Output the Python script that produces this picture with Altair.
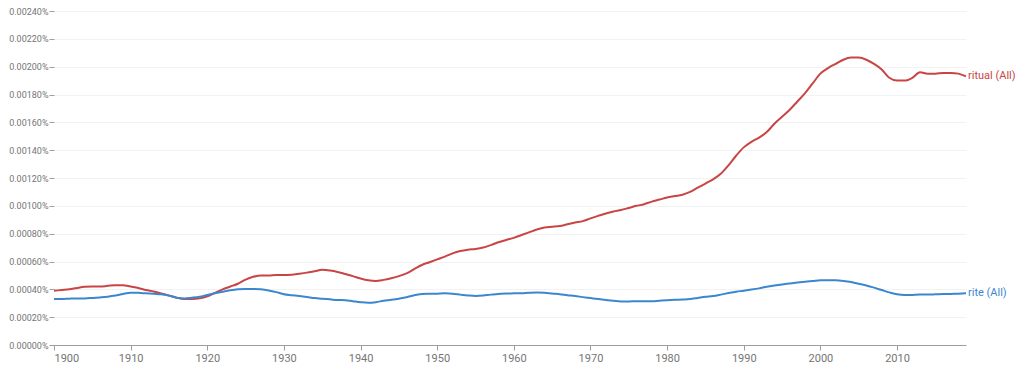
import altair as alt
import pandas as pd

years = list(range(1900, 2020))

ritual_pct = [
    0.000390, 0.000395, 0.000400, 0.000410, 0.000418, 0.000420, 0.000420, 0.000425, 0.000430, 0.000430,
    0.000420, 0.000410, 0.000395, 0.000385, 0.000370, 0.000355, 0.000340, 0.000330, 0.000330, 0.000335,
    0.000350, 0.000375, 0.000400, 0.000420, 0.000440, 0.000470, 0.000490, 0.000500, 0.000500, 0.000503,
    0.000503, 0.000505, 0.000512, 0.000520, 0.000530, 0.000540, 0.000535, 0.000525, 0.000510, 0.000495,
    0.000478, 0.000465, 0.000460, 0.000468, 0.000480, 0.000495, 0.000515, 0.000545, 0.000575, 0.000595,
    0.000615, 0.000635, 0.000658, 0.000675, 0.000685, 0.000690, 0.000700, 0.000718, 0.000738, 0.000755,
    0.000770, 0.000790, 0.000810, 0.000830, 0.000845, 0.000850, 0.000855, 0.000868, 0.000880, 0.000890,
    0.000910, 0.000928, 0.000945, 0.000960, 0.000970, 0.000985, 0.001000, 0.001012, 0.001030, 0.001045,
    0.001060, 0.001070, 0.001080, 0.001100, 0.001130, 0.001160, 0.001190, 0.001230, 0.001290, 0.001360,
    0.001420, 0.001460, 0.001490, 0.001530, 0.001590, 0.001640, 0.001690, 0.001750, 0.001810, 0.001880,
    0.001950, 0.001990, 0.002020, 0.002050, 0.002065, 0.002065, 0.002050, 0.002020, 0.001980, 0.001920,
    0.001900, 0.001900, 0.001920, 0.001960, 0.001950, 0.001950, 0.001955, 0.001955, 0.001950, 0.001930,
]

rite_pct = [
    0.000330, 0.000330, 0.000333, 0.000335, 0.000335, 0.000338, 0.000342, 0.000347, 0.000355, 0.000367,
    0.000376, 0.000375, 0.000371, 0.000368, 0.000365, 0.000355, 0.000340, 0.000335, 0.000340, 0.000347,
    0.000360, 0.000372, 0.000383, 0.000393, 0.000400, 0.000403, 0.000403, 0.000400, 0.000392, 0.000380,
    0.000365, 0.000358, 0.000352, 0.000345, 0.000337, 0.000332, 0.000328, 0.000323, 0.000322, 0.000315,
    0.000308, 0.000304, 0.000308, 0.000318, 0.000325, 0.000333, 0.000343, 0.000358, 0.000366, 0.000368,
    0.000369, 0.000371, 0.000368, 0.000362, 0.000356, 0.000352, 0.000355, 0.000362, 0.000366, 0.000370,
    0.000371, 0.000372, 0.000375, 0.000377, 0.000376, 0.000370, 0.000365, 0.000358, 0.000352, 0.000344,
    0.000337, 0.000330, 0.000324, 0.000318, 0.000313, 0.000313, 0.000314, 0.000314, 0.000314, 0.000318,
    0.000322, 0.000325, 0.000327, 0.000330, 0.000338, 0.000346, 0.000352, 0.000362, 0.000373, 0.000383,
    0.000390, 0.000398, 0.000407, 0.000418, 0.000427, 0.000435, 0.000442, 0.000449, 0.000455, 0.000460,
    0.000465, 0.000466, 0.000465, 0.000460, 0.000452, 0.000440, 0.000428, 0.000412, 0.000395, 0.000378,
    0.000364, 0.000359, 0.000360, 0.000362, 0.000362, 0.000364, 0.000366, 0.000367, 0.000369, 0.000371,
]

series_names = ["ritual (All)", "rite (All)"]
series_colors = ["#c94545", "#3b87cf"]
x_ticks = list(range(1900, 2011, 10))
y_ticks = [round(i * 0.0002 / 100, 10) for i in range(13)]

rows = []
for name, vals in zip(series_names, [ritual_pct, rite_pct]):
    for yr, v in zip(years, vals):
        rows.append({"year": yr, "value": v / 100, "series": name})
df = pd.DataFrame(rows)

color = alt.Color("series:N", scale=alt.Scale(domain=series_names, range=series_colors), legend=None)

x = alt.X("year:Q", scale=alt.Scale(domain=[1900, 2019], nice=False, zero=False),
          axis=alt.Axis(values=x_ticks, tickCount=20, format="d", title=None, grid=False,
                        domainColor="#9e9e9e", tickColor="#9e9e9e", tickSize=5,
                        labelColor="#757575", labelFontSize=11, labelPadding=2,
                        labelFont="Roboto", labelOverlap=False))
y = alt.Y("value:Q", scale=alt.Scale(domain=[0, 0.000024], nice=False),
          axis=alt.Axis(values=y_ticks, tickCount=20, format=".5%", title=None, grid=True,
                        gridColor="#f2f2f2", domain=False, tickColor="#9e9e9e",
                        tickSize=5, labelColor="#757575", labelFontSize=9,
                        labelPadding=1, labelFont="Roboto", labelOverlap=False))

lines = alt.Chart(df).mark_line(strokeWidth=2, interpolate="monotone").encode(
    x=x, y=y, color=color
)

labels = alt.Chart(df).transform_filter(alt.datum.year == 2019).mark_text(
    align="left", baseline="middle", dx=2, fontSize=11, font="Roboto"
).encode(x="year:Q", y="value:Q", text="series:N", color=color)

chart = (lines + labels).properties(
    width=912, height=334,
    autosize=alt.AutoSizeParams(type="none"),
    padding={"left": 46, "top": 3, "right": 50, "bottom": 18},
).configure_view(stroke=None)

chart.save("out.html", embed_options={"renderer": "svg", "actions": False})
